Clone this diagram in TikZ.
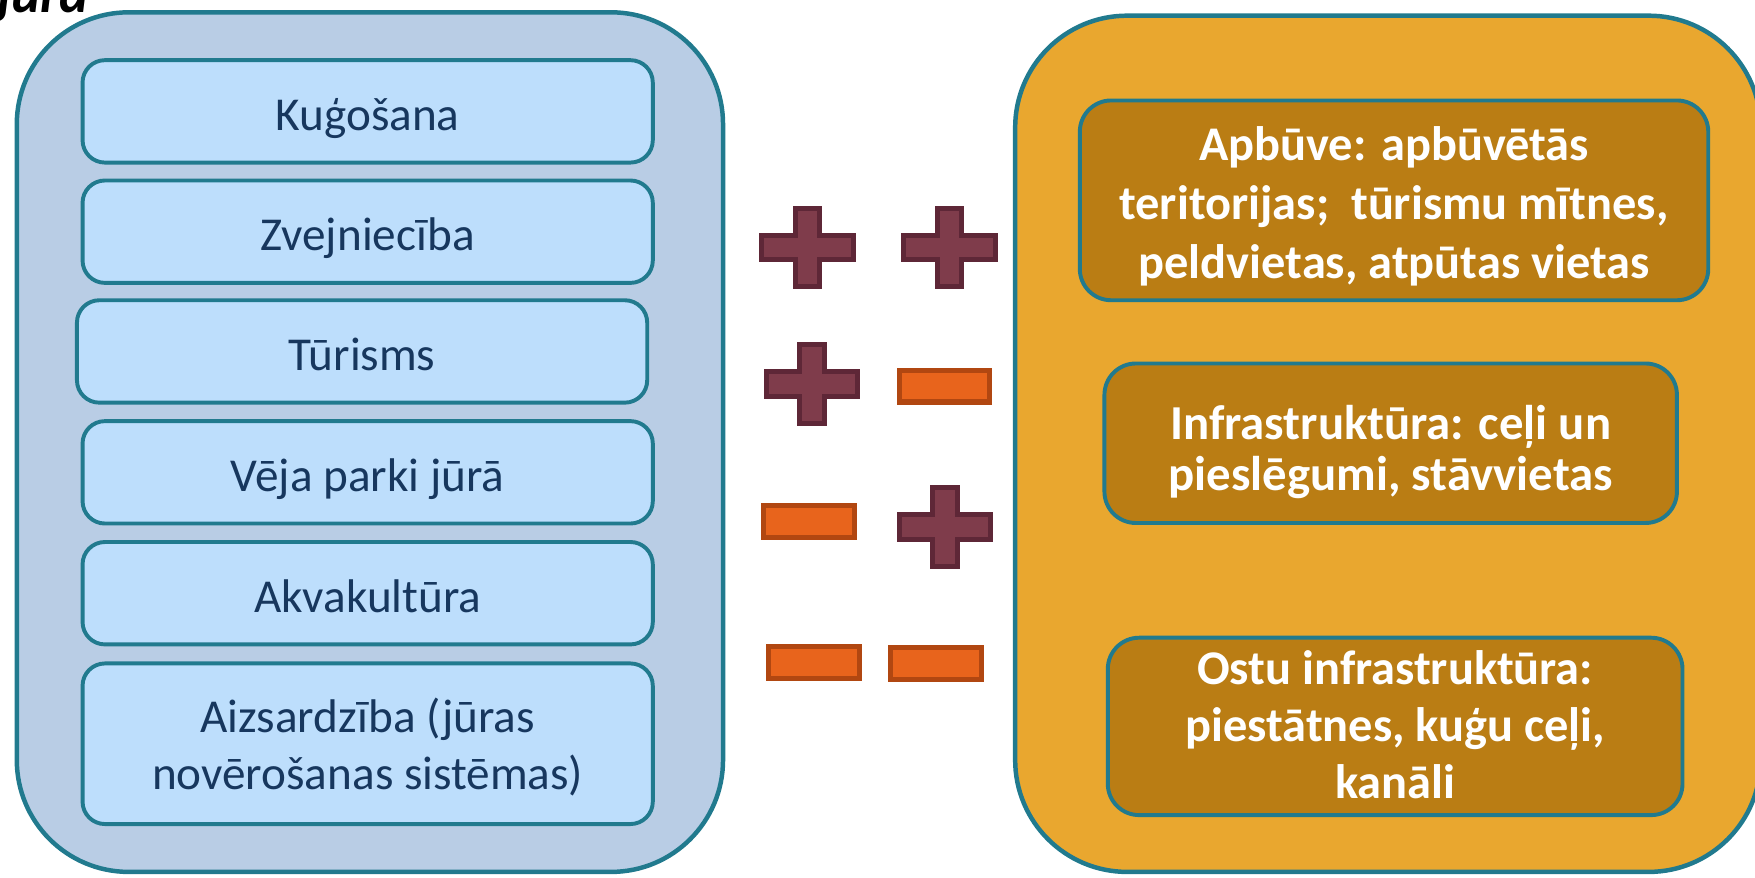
\documentclass[tikz,border=0pt]{standalone}
\usepackage{fontspec}
\setmainfont{Carlito}
\usetikzlibrary{positioning}

\definecolor{frameteal}{HTML}{217A8E}
\definecolor{seablue}{HTML}{B9CDE5}
\definecolor{useblue}{HTML}{BDDEFC}
\definecolor{usetext}{HTML}{17375E}
\definecolor{landorange}{HTML}{E9A72F}
\definecolor{landbrown}{HTML}{BA7D14}
\definecolor{plusfill}{HTML}{7F3C4B}
\definecolor{plusline}{HTML}{5E2737}
\definecolor{minusfill}{HTML}{E8641C}
\definecolor{minusline}{HTML}{B14711}

\begin{document}
\begin{tikzpicture}[x=0.1mm, y=-0.1mm,
    bigbox/.style={rectangle, draw=frameteal, line width=0.4mm, rounded corners=10mm},
    usebox/.style={rectangle, draw=frameteal, fill=useblue, line width=0.35mm, rounded corners=2mm,
        minimum width=50.95mm, minimum height=9.15mm, text=usetext, align=center,
        text height=3.4mm, text depth=0mm, font=\fontsize{12}{14.6}\selectfont},
    landbox/.style={rectangle, draw=frameteal, fill=landbrown, line width=0.35mm, rounded corners=2.8mm,
        text=white, align=center, text depth=0mm, font=\bfseries\fontsize{12.3}{15}\selectfont},
    plussign/.style={draw=plusline, fill=plusfill, line width=0.45mm},
    minussign/.style={rectangle, draw=minusline, fill=minusfill, line width=0.45mm,
        minimum width=8.1mm, minimum height=2.85mm, inner sep=0pt}]
    \useasboundingbox (0,0) rectangle (1568,784);

    % Title (cut off at the top)
    \node (title) [anchor=base west, inner sep=0pt, font=\bfseries\itshape\fontsize{14}{17}\selectfont] at (-3,11) {jūrā};

    % Outer boxes
    \node (sea) [bigbox, fill=seablue, minimum width=63.1mm, minimum height=76.8mm] at (330.5,395) {};
    \node (land) [bigbox, fill=landorange, minimum width=66.6mm, minimum height=76.5mm] at (1240,396.5) {};

    % Sea uses
    \node (shipping) [usebox] at (328.5,99.5) {Kuģošana};
    \node (fishing) [usebox, below=1.25mm of shipping] {Zvejniecība};
    \node (tourism) [usebox, below=1.2mm of fishing, xshift=-0.5mm] {Tūrisms};
    \node (wind) [usebox, below=1.3mm of tourism, xshift=0.5mm] {Vēja parki jūrā};
    \node (aqua) [usebox, below=1.3mm of wind] {Akvakultūra};
    \node (defence) [usebox, below=1.35mm of aqua, minimum height=14.35mm, text height=8.2mm]
        {Aizsardzība (jūras\\novērošanas sistēmas)};

    % Land uses
    \node (building) [landbox, minimum width=56.15mm, minimum height=17.85mm, text height=14mm] at (1245.5,179)
        {Apbūve: apbūvētās\\teritorijas;\ \ tūrismu mītnes,\\peldvietas, atpūtas vietas};
    \node (infra) [landbox, minimum width=51.15mm, minimum height=14.25mm, text height=8.4mm,
        font=\bfseries\fontsize{12.4}{12.8}\selectfont] at (1242.5,396)
        {Infrastruktūra: ceļi un\\pieslēgumi, stāvvietas};
    \node (port) [landbox, minimum width=51.35mm, minimum height=15.85mm, text height=12.82mm,
        font=\bfseries\fontsize{12.3}{14.4}\selectfont] at (1246.5,649)
        {Ostu infrastruktūra:\\piestātnes, kuģu ceļi,\\kanāli};

    % Signs
    \foreach \x/\y in {721.6/221.1, 848.3/221.1, 725.5/343.2, 844.3/470.9}
        \draw[plussign] (\x,\y) ++(-41,-11) -- ++(30,0) -- ++(0,-24) -- ++(22,0) -- ++(0,24) -- ++(30,0)
            -- ++(0,22) -- ++(-30,0) -- ++(0,24) -- ++(-22,0) -- ++(0,-24) -- ++(-30,0) -- cycle;
    \node (minusA) [minussign] at (843.8,344.9) {};
    \node (minusB) [minussign] at (723,466.1) {};
    \node (minusC) [minussign] at (727,592) {};
    \node (minusD) [minussign] at (836,593) {};
\end{tikzpicture}
\end{document}
